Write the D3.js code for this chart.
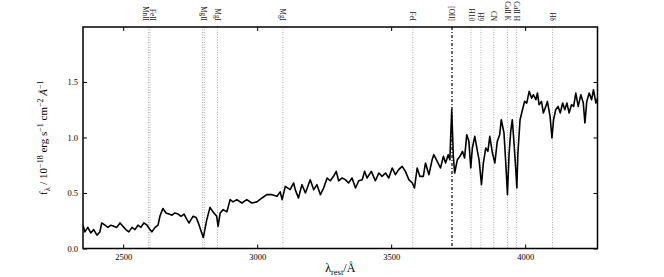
<!DOCTYPE html>
<html>
<head>
    <script src="https://d3js.org/d3.v7.min.js"></script>
    <style>
        body { margin: 0; background: #fff; }
        text { font-family: "Liberation Serif", "DejaVu Serif", serif; }
    </style>
</head>
<body>
    <div id="chart"></div>
    <script>
        // spectrum
        let wave = [2350, 2357, 2368, 2379, 2390, 2402, 2413, 2420, 2432, 2443, 2454, 2465, 2476, 2488, 2499,
            2510, 2521, 2533, 2544, 2555, 2566, 2577, 2589, 2600, 2607, 2619, 2630, 2637, 2648, 2660,
            2671, 2682, 2693, 2705, 2716, 2727, 2738, 2746, 2753, 2761, 2772, 2779, 2793, 2799, 2812,
            2824, 2835, 2849, 2854, 2862, 2873, 2887, 2899, 2910, 2924, 2943, 2961, 2980, 2999, 3018,
            3036, 3055, 3074, 3086, 3093, 3105, 3123, 3136, 3142, 3154, 3167, 3180, 3198, 3211, 3223,
            3236, 3248, 3261, 3273, 3285, 3295, 3304, 3317, 3329, 3341, 3354, 3367, 3379, 3392, 3401,
            3410, 3426, 3441, 3454, 3466, 3479, 3491, 3504, 3516, 3528, 3541, 3553, 3566, 3579, 3587,
            3597, 3607, 3620, 3628, 3641, 3653, 3659, 3672, 3684, 3695, 3703, 3713, 3719, 3726, 3732,
            3737, 3747, 3757, 3766, 3774, 3782, 3790, 3797, 3803, 3812, 3822, 3828, 3837, 3844, 3853,
            3861, 3868, 3878, 3887, 3896, 3905, 3911, 3921, 3927, 3934, 3940, 3946, 3952, 3958, 3965,
            3969, 3973, 3981, 3990, 3998, 4006, 4015, 4024, 4031, 4040, 4046, 4052, 4061, 4068, 4077,
            4083, 4093, 4100, 4106, 4114, 4123, 4131, 4140, 4148, 4156, 4164, 4173, 4181, 4189, 4198,
            4208, 4217, 4223, 4230, 4239, 4248, 4255, 4264, 4273];
        let flux = [0.21, 0.15, 0.19, 0.14, 0.17, 0.12, 0.15, 0.23, 0.21, 0.19, 0.21, 0.20, 0.19, 0.23, 0.20,
            0.17, 0.15, 0.19, 0.17, 0.21, 0.19, 0.23, 0.21, 0.17, 0.15, 0.19, 0.21, 0.29, 0.36, 0.32,
            0.31, 0.30, 0.32, 0.31, 0.29, 0.31, 0.26, 0.23, 0.26, 0.29, 0.28, 0.24, 0.14, 0.10, 0.26,
            0.37, 0.33, 0.29, 0.20, 0.32, 0.35, 0.33, 0.44, 0.42, 0.44, 0.41, 0.44, 0.41, 0.42, 0.455,
            0.485, 0.485, 0.47, 0.51, 0.44, 0.56, 0.53, 0.59, 0.53, 0.455, 0.575, 0.50, 0.62, 0.53, 0.575,
            0.485, 0.545, 0.635, 0.61, 0.65, 0.695, 0.61, 0.635, 0.62, 0.59, 0.635, 0.545, 0.61, 0.62, 0.695,
            0.635, 0.695, 0.61, 0.68, 0.65, 0.68, 0.635, 0.725, 0.665, 0.71, 0.74, 0.695, 0.62, 0.59, 0.545,
            0.725, 0.65, 0.65, 0.77, 0.665, 0.80, 0.845, 0.785, 0.725, 0.83, 0.77, 0.845, 0.80, 1.25, 0.83,
            0.68, 0.80, 0.83, 0.875, 0.815, 1.025, 0.965, 0.725, 0.905, 1.01, 0.875, 0.80, 0.575, 0.77, 0.905,
            0.875, 1.01, 0.86, 0.77, 0.965, 1.025, 1.16, 1.04, 0.80, 0.485, 0.85, 1.05, 1.16, 0.965, 0.71,
            0.545, 0.86, 1.16, 1.25, 1.325, 1.31, 1.415, 1.355, 1.385, 1.34, 1.40, 1.295, 1.325, 1.22, 1.28,
            1.325, 1.19, 0.995, 1.16, 1.25, 1.28, 1.22, 1.31, 1.25, 1.31, 1.22, 1.295, 1.28, 1.40, 1.28,
            1.385, 1.31, 1.13, 1.325, 1.40, 1.34, 1.43, 1.31, 1.37];

        let lineLabels = [["FeII", "MnII"], ["MgII"], ["MgI"], ["MgI"], ["FeI"], ["[OII]"], ["H10"], ["H9"],
            ["CN"], ["CaII K"], ["CaII H"], ["Hδ"]];
        let lineWaves = [[2594, 2600], [2796, 2803], [2852], [3096], [3581], [3727], [3798], [3835],
            [3883], [3934], [3968], [4102]];

        let xTicks = [2500, 3000, 3500, 4000];
        let yTicks = [0.0, 0.5, 1.0, 1.5];

        let width = 664;
        let height = 277;
        let marginLeft = 83;
        let marginRight = 66.5;
        let marginTop = 27;
        let marginBottom = 28.5;

        let x = d3.scaleLinear()
            .domain([2350, 4270])
            .range([marginLeft, width - marginRight]);

        let y = d3.scaleLinear()
            .domain([0, 1.995])
            .range([height - marginBottom, marginTop]);

        let svg = d3.select("#chart").append("svg")
            .attr("width", width)
            .attr("height", height);

        svg.append("rect").attr("width", width).attr("height", height).attr("fill", "#fff");

        svg.append("clipPath").attr("id", "plot")
            .append("rect")
            .attr("x", x.range()[0]).attr("y", y.range()[1])
            .attr("width", x.range()[1] - x.range()[0])
            .attr("height", y.range()[0] - y.range()[1]);

        // line markers
        lineWaves.forEach((ws, i) => {
            let oii = lineLabels[i][0] === "[OII]";
            ws.forEach(w => {
                svg.append("line")
                    .attr("x1", x(w)).attr("x2", x(w))
                    .attr("y1", y.range()[1]).attr("y2", y.range()[0])
                    .attr("stroke", oii ? "#000" : "#999")
                    .attr("stroke-width", oii ? 1.2 : 0.8)
                    .attr("stroke-dasharray", oii ? "3,2,1,2" : "1,1.5");
            });
            let cx = d3.mean(ws, w => x(w));
            let t = svg.append("text")
                .attr("transform", `translate(${cx},21) rotate(90)`)
                .attr("text-anchor", "end")
                .attr("font-size", 7.2)
                .attr("fill", "#222");
            lineLabels[i].forEach((s, j) => {
                t.append("tspan")
                    .attr("x", 0)
                    .attr("y", j === 0 ? (lineLabels[i].length > 1 ? -1.2 : 2.5) : 6.2)
                    .text(s);
            });
        });

        let spectrum = d3.line()
            .x((d, i) => x(wave[i]))
            .y(d => y(d));

        svg.append("path")
            .attr("clip-path", "url(#plot)")
            .attr("fill", "none")
            .attr("stroke", "#000")
            .attr("stroke-width", 1.6)
            .attr("stroke-linejoin", "round")
            .attr("d", spectrum(flux));

        // axes, ticks inside
        svg.append("g")
            .attr("transform", `translate(0,${y.range()[0]})`)
            .call(d3.axisBottom(x).tickValues(xTicks).tickSizeInner(-4).tickSizeOuter(0).tickPadding(5).tickFormat(d3.format("d")))
            .call(g => g.select(".domain").remove());
        svg.append("g")
            .attr("transform", `translate(0,${y.range()[1]})`)
            .call(d3.axisTop(x).tickValues(xTicks).tickSizeInner(-4).tickSizeOuter(0).tickFormat(""))
            .call(g => g.select(".domain").remove());
        svg.append("g")
            .attr("transform", `translate(${x.range()[0]},0)`)
            .call(d3.axisLeft(y).tickValues(yTicks).tickSizeInner(-4).tickSizeOuter(0).tickPadding(5).tickFormat(d3.format(".1f")))
            .call(g => g.select(".domain").remove());
        svg.append("g")
            .attr("transform", `translate(${x.range()[1]},0)`)
            .call(d3.axisRight(y).tickValues(yTicks).tickSizeInner(-4).tickSizeOuter(0).tickFormat(""))
            .call(g => g.select(".domain").remove());

        svg.selectAll(".tick text")
            .attr("font-family", "Liberation Serif, serif")
            .attr("font-size", 8.5)
            .attr("fill", "#000");

        svg.append("rect")
            .attr("x", x.range()[0]).attr("y", y.range()[1])
            .attr("width", x.range()[1] - x.range()[0])
            .attr("height", y.range()[0] - y.range()[1])
            .attr("fill", "none")
            .attr("stroke", "#000")
            .attr("stroke-width", 1.5);

        // axis titles
        let xl = svg.append("text")
            .attr("x", (x.range()[0] + x.range()[1]) / 2)
            .attr("y", 272)
            .attr("text-anchor", "middle")
            .attr("font-size", 12);
        xl.append("tspan").text("λ");
        xl.append("tspan").attr("font-size", 8.5).attr("dy", 3).text("rest");
        xl.append("tspan").attr("dy", -3).text("/Å");

        let yl = svg.append("text")
            .attr("transform", `translate(47,${(y.range()[0] + y.range()[1]) / 2}) rotate(-90)`)
            .attr("text-anchor", "middle")
            .attr("font-size", 11);
        yl.append("tspan").text("f");
        yl.append("tspan").attr("font-size", 8).attr("dy", 2.5).text("λ");
        yl.append("tspan").attr("dy", -2.5).text(" / 10");
        yl.append("tspan").attr("font-size", 8).attr("dy", -4).text("−18");
        yl.append("tspan").attr("dy", 4).text(" erg s");
        yl.append("tspan").attr("font-size", 8).attr("dy", -4).text("−1");
        yl.append("tspan").attr("dy", 4).text(" cm");
        yl.append("tspan").attr("font-size", 8).attr("dy", -4).text("−2");
        yl.append("tspan").attr("dy", 4).attr("font-style", "italic").text(" Å");
        yl.append("tspan").attr("font-size", 8).attr("dy", -4).text("−1");
    </script>
</body>
</html>
